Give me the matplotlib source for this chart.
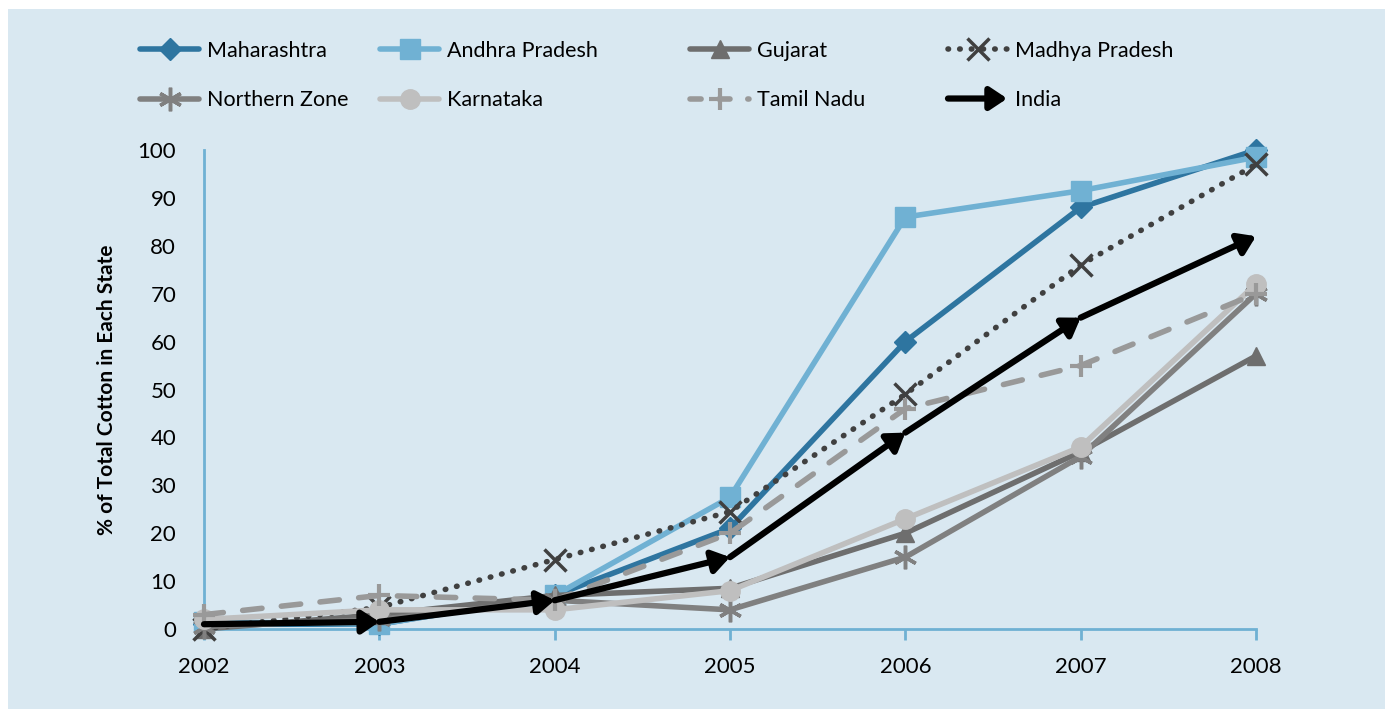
import matplotlib.pyplot as plt
from matplotlib.lines import Line2D
from matplotlib.patches import FancyArrowPatch, Rectangle
from matplotlib.legend_handler import HandlerBase

plt.rcParams['font.family'] = ['Lato', 'DejaVu Sans']

years = [2002, 2003, 2004, 2005, 2006, 2007, 2008]
maharashtra = [1, 1, 7, 21, 60, 88, 100]
andhra = [1.5, 1, 7, 27.5, 86, 91.5, 98.5]
gujarat = [0, 3, 7, 8.5, 20, 37, 57]
madhya = [0, 4.5, 14.5, 24.5, 49, 76, 97]
northern = [0.5, 2, 6, 4, 15, 36, 70]
karnataka = [2, 4, 4, 8, 23, 38, 72]
tamil = [3, 7, 6, 20, 46, 55, 70]
india = [1, 1.5, 6, 15, 41, 65, 82]

BG = '#d9e8f1'
AXIS = '#6fb1d3'
ARROW = '-|>,head_length=0.6,head_width=0.4'
ARROW_SCALE = 17


class ArrowHandler(HandlerBase):
    # legend key drawn as a plain arrow, like the India series
    def create_artists(self, legend, orig_handle, xdescent, ydescent,
                       width, height, fontsize, trans):
        y = height / 2 - ydescent
        arr = FancyArrowPatch((-xdescent, y), (-xdescent + width, y),
                              arrowstyle=ARROW, mutation_scale=ARROW_SCALE,
                              lw=4.5, color='black', transform=trans,
                              shrinkA=0, shrinkB=0, joinstyle='round',
                              capstyle='round')
        return [arr]


fig = plt.figure(figsize=(13.85, 7.09), dpi=100, facecolor='white')
fig.patches.append(Rectangle((8 / 1385, 0), 1, 1 - 9 / 709,
                             transform=fig.transFigure, facecolor=BG,
                             edgecolor='none', zorder=-10))

ax = fig.add_axes([204 / 1385, 1 - 629 / 709, 1052 / 1385, 479 / 709])
ax.set_facecolor('none')

common = dict(lw=4, solid_capstyle='round', dash_capstyle='round',
              clip_on=False, zorder=3)
h1, = ax.plot(years, maharashtra, color='#2e75a0', marker='D', ms=11,
              label='Maharashtra', **common)
h2, = ax.plot(years, andhra, color='#70b1d3', marker='s', ms=14,
              label='Andhra Pradesh', **common)
h3, = ax.plot(years, gujarat, color='#6e6e6e', marker='^', ms=13,
              label='Gujarat', **common)
h4, = ax.plot(years, madhya, color='#404040', marker='x', ms=16, mew=2.5,
              ls=(0, (0.1, 2)), label='Madhya Pradesh', **common)
h5, = ax.plot(years, northern, color='#808080', marker=(6, 2, 0), ms=17,
              mew=2.5, label='Northern Zone', **common)
h6, = ax.plot(years, karnataka, color='#bfbfbf', marker='o', ms=14,
              label='Karnataka', **common)
h7, = ax.plot(years, tamil, color='#999999', marker='+', ms=16, mew=3,
              ls=(0, (3.5, 3.5)), label='Tamil Nadu', **common)

# India: each segment ends in an arrow head
for i in range(len(years) - 1):
    ax.annotate('', xy=(years[i + 1], india[i + 1]),
                xytext=(years[i], india[i]),
                arrowprops=dict(arrowstyle=ARROW, mutation_scale=ARROW_SCALE,
                                lw=4.5, color='black', shrinkA=0, shrinkB=0,
                                joinstyle='round', capstyle='round'),
                zorder=4, annotation_clip=False)
h8 = Line2D([], [], color='black', label='India')

# shorter dashes for the Tamil Nadu key so the gaps show in the legend
h7_key = Line2D([], [], color='#999999', marker='+', ms=16, mew=3, lw=4,
                ls=(0, (2, 3.2)), dash_capstyle='round', label='Tamil Nadu')

ax.set_xlim(2002, 2008)
ax.set_ylim(0, 100)
ax.set_xticks(years)
ax.set_yticks(range(0, 101, 10))
ax.tick_params(axis='x', direction='out', length=8, width=2, color=AXIS,
               labelsize=16, pad=12)
ax.tick_params(axis='y', length=0, labelsize=16, pad=20)
for s in ('top', 'right'):
    ax.spines[s].set_visible(False)
for s in ('left', 'bottom'):
    ax.spines[s].set_color(AXIS)
    ax.spines[s].set_linewidth(2)

ax.set_ylabel('% of Total Cotton in Each State', fontsize=15,
              fontweight='bold', labelpad=15)

# one small legend per column so the columns sit on a fixed grid
columns = [(140, [h1, h5]), (380, [h2, h6]), (690, [h3, h7_key]),
           (948, [h4, h8])]
for x0, hs in columns:
    fig.legend(handles=hs, labels=[h.get_label() for h in hs],
               loc='upper left', bbox_to_anchor=(x0 / 1385, 1 - 41 / 709),
               frameon=False, fontsize=15.5, handlelength=2.75,
               handletextpad=0.35, labelspacing=1.35, borderpad=0,
               borderaxespad=0, numpoints=1, handler_map={h8: ArrowHandler()})

fig.savefig('out.png', dpi=100, facecolor='white')
